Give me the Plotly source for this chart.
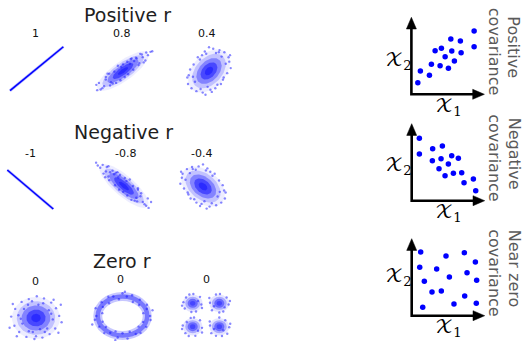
import numpy as np
import plotly.graph_objects as go

W, H = 525, 341
BLUE = "#0000ff"
FONT = "DejaVu Sans"

# ---------------- data ----------------
row_titles = ["Positive r", "Negative r", "Zero r"]
r_labels = ["1", "0.8", "0.4", "-1", "-0.8", "-0.4", "0", "0", "0"]
cloud_r = {"pos08": 0.8, "pos04": 0.4, "neg08": -0.8, "neg04": -0.4, "zero": 0.0}
cov_titles = [("Positive", "covariance"), ("Negative", "covariance"), ("Near zero", "covariance")]

# extremes of the r = +1 / -1 samples
line_x = [-3.0, 3.0]
line_y_pos = [-3.0, 3.0]
line_y_neg = [3.0, -3.0]

# hand-read sparse (outer) sample points of each cloud, standard units
pos08_pts = [(2.9, 2.4), (2.6, 1.6), (3.2, 2.9), (2.2, 2.5), (1.8, 0.9), (2.4, 1.3), (1.5, 2.0), (2.0, 2.6),
             (1.2, 0.2), (0.9, 1.8), (-0.3, -1.4), (0.5, 1.4), (-1.0, -0.1), (-1.5, -2.2), (-2.0, -0.9),
             (-2.4, -2.6), (-2.8, -1.8), (-3.0, -2.9), (-2.2, -2.3), (-1.8, -0.4), (-1.2, -1.9), (-0.6, 0.8),
             (0.2, -0.9), (1.0, 1.9), (1.6, 1.9), (2.7, 2.8), (-2.6, -2.8), (-1.4, -1.7), (0.6, -0.5),
             (1.9, 1.2), (-0.8, -1.8), (-2.0, -1.3), (0.0, 1.0), (1.3, 1.5), (-1.6, -0.4), (2.3, 2.1),
             (3.4, 3.0), (-3.1, -2.1), (-0.2, 0.6), (0.8, 1.1)]
pos04_pts = [(2.8, 1.9), (3.1, 0.4), (2.2, 2.6), (1.5, 2.9), (0.6, 3.1), (-0.4, 2.4), (-1.3, 1.6), (-2.2, 0.9),
             (-2.9, -0.6), (-3.0, -1.8), (-2.5, -2.4), (-1.8, -2.8), (-0.9, -3.0), (0.2, -2.6), (1.2, -1.9),
             (2.0, -1.2), (2.6, -0.3), (1.8, 2.0), (-2.0, -1.5), (-1.0, 2.2), (0.9, -2.4), (-0.2, -2.2),
             (2.4, 1.0), (-2.7, 0.2), (1.0, 2.5), (-1.6, 1.9), (0.4, -2.9), (3.0, 2.2), (-0.6, 2.7),
             (1.7, -1.8), (-2.3, -0.8), (0.0, 3.3), (2.1, -0.9), (-1.2, -2.5), (1.4, 2.6), (-3.1, -0.9),
             (2.9, 1.3), (-0.5, -3.3)]
neg08_pts = [(-2.9, 2.5), (-2.5, 1.7), (-3.2, 2.8), (-2.1, 2.6), (-1.8, 0.8), (-2.3, 1.2), (-1.4, 2.1),
             (-1.9, 2.7), (-1.1, 0.1), (-0.8, 1.9), (0.4, -1.3), (-0.5, 1.5), (1.1, 0.0), (1.6, -2.1),
             (2.1, -1.0), (2.5, -2.5), (2.9, -1.7), (3.0, -3.0), (2.3, -2.2), (1.7, -0.3), (1.3, -2.0),
             (0.7, 0.9), (-0.1, -0.8), (-1.0, 1.8), (-1.7, 1.9), (-2.6, 2.9), (2.7, -2.7), (1.5, -1.6),
             (-0.6, -0.5), (-1.9, 1.3), (0.9, -1.9), (2.0, -1.4), (0.1, 1.1), (-1.2, 1.6), (1.7, -0.5),
             (-2.2, 2.0), (-3.4, 3.2), (3.3, -2.2), (0.3, 0.7), (-0.7, 1.2)]
neg04_pts = [(-2.8, 1.9), (-3.1, 0.4), (-2.2, 2.6), (-1.5, 2.9), (-0.6, 3.0), (0.4, 2.4), (1.3, 1.6), (2.2, 0.9),
             (2.9, -0.6), (3.0, -1.8), (2.5, -2.4), (1.8, -2.8), (0.9, -3.0), (-0.2, -2.6), (-1.2, -1.9),
             (-2.0, -1.2), (-2.6, -0.3), (-1.8, 2.0), (2.0, -1.5), (1.0, 2.2), (-0.9, -2.4), (0.2, -2.2),
             (-2.4, 1.0), (2.7, 0.2), (-1.0, 2.5), (1.6, 1.9), (-0.4, -2.9), (-3.0, 2.2), (0.6, 2.7),
             (-1.7, -1.8), (2.3, -0.8), (0.0, 3.3), (-2.1, -0.9), (1.2, -2.5), (-1.4, 2.6), (3.1, -0.9),
             (-2.9, 1.3), (0.5, -3.3)]
zero_pts = [(2.9, 0.3), (2.5, 1.4), (1.9, 2.2), (1.0, 2.8), (0.1, 3.1), (-0.9, 2.7), (-1.8, 2.3), (-2.6, 1.3),
            (-3.1, 0.2), (-2.7, -1.1), (-2.1, -2.0), (-1.2, -2.7), (-0.2, -3.0), (0.8, -2.8), (1.7, -2.3),
            (2.4, -1.5), (3.2, -0.6), (1.6, 1.1), (-1.5, 1.3), (-1.7, -0.8), (1.4, -1.5), (0.3, 1.9),
            (-0.4, -2.0), (2.1, -0.2), (-2.2, 0.4), (0.9, 2.1), (-1.0, 1.9), (-0.9, -1.9), (1.1, -2.0),
            (2.8, -2.1), (-2.9, 2.0), (-3.3, -1.4), (3.1, 1.9), (0.5, -1.6), (-2.4, -2.6), (2.2, 2.6),
            (-0.5, 2.4), (1.9, 0.6), (-1.9, -0.1), (0.0, -2.6)]
ring_pts = [(1.15, 0.00), (0.87, 0.15), (1.01, 0.37), (1.02, 0.59), (0.69, 0.58), (0.72, 0.86), (0.43, 0.74),
            (0.40, 1.09), (0.18, 1.03), (0.00, 1.20), (-0.15, 0.88), (-0.38, 1.03), (-0.59, 1.01),
            (-0.56, 0.67), (-0.87, 0.73), (-0.82, 0.48), (-1.12, 0.41), (-0.84, 0.15), (-1.09, 0.00),
            (-1.15, -0.20), (-0.83, -0.30), (-0.97, -0.56), (-0.69, -0.58), (-0.76, -0.90), (-0.51, -0.88),
            (-0.29, -0.81), (-0.20, -1.13), (0.00, -0.91), (0.21, -1.19), (0.30, -0.83), (0.55, -0.95),
            (0.75, -0.89), (0.67, -0.56), (0.99, -0.57), (0.86, -0.31), (1.17, -0.21), (1.25, 0.30),
            (-1.26, -0.45), (0.10, 1.28), (-0.30, -1.27)]
blob_centers = [(-1.0, 1.0), (1.0, 1.0), (-1.0, -1.0), (1.0, -1.0)]
blob_pts = [(-1.7, 1.1), (-0.35, 0.9), (-1.25, 1.75), (-0.75, 0.3), (-1.6, 0.55), (-0.45, 1.55), (-0.95, 1.8),
            (-1.8, 0.8), (-0.3, 0.6), (-1.1, 0.25), (-1.5, 1.5), (-0.6, 1.2),
            (0.3, 1.05), (1.7, 0.9), (0.75, 1.75), (1.3, 0.3), (0.45, 0.4), (1.55, 1.5), (1.05, 1.8),
            (1.8, 1.2), (0.25, 1.45), (1.0, 0.22), (0.6, 0.75), (1.4, 0.65),
            (-1.75, -0.9), (-0.3, -1.1), (-1.15, -0.25), (-0.8, -1.78), (-1.55, -1.55), (-0.45, -0.45),
            (-1.3, -1.8), (-0.3, -1.5), (-1.8, -1.2), (-0.9, -0.22), (-1.45, -0.6), (-0.6, -1.35),
            (0.3, -0.9), (1.75, -1.05), (1.0, -0.22), (0.75, -1.78), (1.45, -0.45), (0.4, -1.55),
            (1.6, -1.6), (1.2, -1.8), (0.28, -0.55), (1.82, -0.75), (0.6, -1.2), (1.3, -1.3)]

# covariance sketches (normalised to axis length)
cov_pos_x = [0.088, 0.123, 0.247, 0.274, 0.393, 0.507, 0.589, 0.325, 0.411, 0.462, 0.553, 0.540, 0.671, 0.681, 0.859, 0.859]
cov_pos_y = [0.151, 0.303, 0.247, 0.390, 0.371, 0.338, 0.432, 0.566, 0.597, 0.488, 0.562, 0.718, 0.692, 0.540, 0.822, 0.618]
cov_neg_x = [0.105, 0.105, 0.287, 0.420, 0.283, 0.402, 0.548, 0.639, 0.502, 0.374, 0.457, 0.571, 0.685, 0.717, 0.845, 0.877]
cov_neg_y = [0.810, 0.606, 0.675, 0.710, 0.519, 0.545, 0.584, 0.550, 0.477, 0.416, 0.325, 0.356, 0.364, 0.234, 0.282, 0.130]
cov_zero_x = [0.123, 0.470, 0.721, 0.872, 0.110, 0.342, 0.516, 0.758, 0.173, 0.890, 0.278, 0.406, 0.726, 0.151, 0.579, 0.885]
cov_zero_y = [0.827, 0.775, 0.818, 0.697, 0.628, 0.606, 0.503, 0.558, 0.447, 0.460, 0.308, 0.321, 0.256, 0.109, 0.152, 0.161]

# ---------------- layout helpers ----------------
layout = dict(width=W, height=H, margin=dict(l=0, r=0, t=0, b=0, autoexpand=False), paper_bgcolor="white",
              plot_bgcolor="rgba(0,0,0,0)", showlegend=False, font=dict(family=FONT), shapes=[])
fig = go.Figure()
axis_count = [0]


def add_axes(cx, cy, sx, sy, xr, yr):
    """axes whose data origin sits at pixel (cx, cy), sx/sy pixels per unit"""
    axis_count[0] += 1
    i = axis_count[0]
    s = "" if i == 1 else str(i)
    xr, yr = list(xr), list(yr)
    xl, xh = cx + xr[0] * sx, cx + xr[1] * sx
    yb, yt = cy - yr[0] * sy, cy - yr[1] * sy
    if yb > H:
        yr[0] = -(H - cy) / sy
        yb = H
    if yt < 0:
        yr[1] = cy / sy
        yt = 0
    if xl < 0:
        xr[0] = -cx / sx
        xl = 0
    layout["xaxis" + s] = dict(domain=[xl / W, xh / W], range=xr, visible=False, fixedrange=True, anchor="y" + s)
    layout["yaxis" + s] = dict(domain=[1 - yb / H, 1 - yt / H], range=yr, visible=False, fixedrange=True, anchor="x" + s)
    return "x" + s, "y" + s


def ellipse(r, k, n=72):
    t = np.linspace(0, 2 * np.pi, n)
    a, b = np.sqrt(1 + r), np.sqrt(max(1 - r, 1e-6))
    u, v = k * a * np.cos(t), k * b * np.sin(t)
    return (u - v) / np.sqrt(2), (u + v) / np.sqrt(2)


DOT = dict(size=2.4, color="rgba(20,20,255,0.5)")
LAYERS = [(3.0, 0.07), (2.4, 0.18), (1.8, 0.32), (1.2, 0.45), (0.6, 0.4)]


def cloud(ax, r, pts):
    for k, a in LAYERS:
        ex, ey = ellipse(r, k)
        fig.add_trace(go.Scatter(x=ex, y=ey, mode="lines", fill="toself", line=dict(width=0),
                                 fillcolor=f"rgba(0,0,255,{a})", hoverinfo="skip", xaxis=ax[0], yaxis=ax[1]))
    fig.add_trace(go.Scatter(x=[p[0] for p in pts], y=[p[1] for p in pts], mode="markers", marker=DOT,
                             hoverinfo="skip", xaxis=ax[0], yaxis=ax[1]))


def rline(ax, xs, ys):
    fig.add_trace(go.Scatter(x=xs, y=ys, mode="lines", line=dict(color="rgba(0,0,255,0.3)", width=2.8),
                             hoverinfo="skip", xaxis=ax[0], yaxis=ax[1]))
    fig.add_trace(go.Scatter(x=xs, y=ys, mode="lines", line=dict(color=BLUE, width=1.5),
                             hoverinfo="skip", xaxis=ax[0], yaxis=ax[1]))


R = (-3.6, 3.6)
# row 1
rline(add_axes(36.7, 68.7, 8.9, 7.33, R, R), line_x, line_y_pos)
cloud(add_axes(123, 71, 8.6, 6.6, R, R), cloud_r["pos08"], pos08_pts)
cloud(add_axes(209, 71, 7.0, 7.2, R, R), cloud_r["pos04"], pos04_pts)
# row 2
rline(add_axes(30.3, 189.5, 7.67, 6.5, R, R), line_x, line_y_neg)
cloud(add_axes(124, 186, 8.2, 7.3, R, R), cloud_r["neg08"], neg08_pts)
cloud(add_axes(203, 186.5, 7.3, 6.7, R, R), cloud_r["neg04"], neg04_pts)
# row 3
cloud(add_axes(36, 318, 8.0, 7.0, R, R), cloud_r["zero"], zero_pts)

ax_ring = add_axes(122.5, 316, 24, 19, (-1.6, 1.6), (-1.6, 1.6))
layout["shapes"].append(dict(type="circle", xref=ax_ring[0], yref=ax_ring[1], x0=-1.03, x1=1.03, y0=-1.03, y1=1.03,
                             line=dict(color="rgba(0,0,255,0.22)", width=9)))
layout["shapes"].append(dict(type="circle", xref=ax_ring[0], yref=ax_ring[1], x0=-1.03, x1=1.03, y0=-1.03, y1=1.03,
                             line=dict(color="rgba(0,0,255,0.4)", width=4.5)))
fig.add_trace(go.Scatter(x=[p[0] for p in ring_pts], y=[p[1] for p in ring_pts], mode="markers", marker=DOT,
                         hoverinfo="skip", xaxis=ax_ring[0], yaxis=ax_ring[1]))

ax_blob = add_axes(206, 315, 13.3, 11.7, (-2, 2), (-2, 2))
for bx, by in blob_centers:
    for rad, a in [(0.75, 0.1), (0.56, 0.25), (0.38, 0.38), (0.2, 0.35)]:
        layout["shapes"].append(dict(type="circle", xref=ax_blob[0], yref=ax_blob[1], x0=bx - rad, x1=bx + rad,
                                     y0=by - rad, y1=by + rad, fillcolor=f"rgba(0,0,255,{a})",
                                     line=dict(width=0), layer="below"))
fig.add_trace(go.Scatter(x=[p[0] for p in blob_pts], y=[p[1] for p in blob_pts], mode="markers", marker=DOT,
                         hoverinfo="skip", xaxis=ax_blob[0], yaxis=ax_blob[1]))

# ---------------- covariance sketches ----------------
DW, DH = 73, 77
diag_origins = [(411.4, 94.3), (411.7, 200.7), (411.7, 315.7)]
diag_pts = [(cov_pos_x, cov_pos_y), (cov_neg_x, cov_neg_y), (cov_zero_x, cov_zero_y)]
x2_offsets = [32, 34, 38]
hl_x, hl_y = 11.7 / DW, 11.7 / DH
hw_x, hw_y = 5.0 / DW, 5.0 / DH
XFONT = dict(size=19, color="black", family="DejaVu Math TeX Gyre, STIX Two Math, DejaVu Serif, serif")

annotations = []
for (ox, oy), (px, py), off, (l1, l2) in zip(diag_origins, diag_pts, x2_offsets, cov_titles):
    ax = add_axes(ox, oy, DW, DH, (-0.12, 1.06), (-0.12, 1.06))
    fig.add_trace(go.Scatter(x=[0, 0, 1 - hl_x + 0.01], y=[1 - hl_y + 0.01, 0, 0], mode="lines",
                             line=dict(color="black", width=2.6), hoverinfo="skip", xaxis=ax[0], yaxis=ax[1]))
    fig.add_trace(go.Scatter(x=[-hw_x, hw_x, 0, -hw_x], y=[1 - hl_y, 1 - hl_y, 1, 1 - hl_y], mode="lines",
                             fill="toself", fillcolor="black", line=dict(color="black", width=0.5),
                             hoverinfo="skip", xaxis=ax[0], yaxis=ax[1]))
    fig.add_trace(go.Scatter(x=[1 - hl_x, 1 - hl_x, 1, 1 - hl_x], y=[-hw_y, hw_y, 0, -hw_y], mode="lines",
                             fill="toself", fillcolor="black", line=dict(color="black", width=0.5),
                             hoverinfo="skip", xaxis=ax[0], yaxis=ax[1]))
    fig.add_trace(go.Scatter(x=px, y=py, mode="markers", marker=dict(size=5.5, color=BLUE),
                             hoverinfo="skip", xaxis=ax[0], yaxis=ax[1]))
    annotations.append(dict(x=ox - 13, y=oy - off, text="𝒳<sub>2</sub>", font=XFONT))
    annotations.append(dict(x=ox + 37, y=oy + 13.5, text="𝒳<sub>1</sub>", font=XFONT))
    annotations.append(dict(x=514, y=oy - 47, text=l1, textangle=90,
                            font=dict(size=16, color="#5a5a5a", family=FONT)))
    annotations.append(dict(x=494.5, y=oy - 43, text=l2, textangle=90,
                            font=dict(size=16, color="#5a5a5a", family=FONT)))

# titles and r labels
title_pos = [(127, 15.5), (123, 131.5), (121.5, 260.5)]
for t, (x, y) in zip(row_titles, title_pos):
    annotations.append(dict(x=x, y=y, text=t, font=dict(size=19, color="#1e1e1e", family=FONT)))
label_pos = [(35.5, 33.3), (121.7, 33.3), (206.7, 33.3), (30.5, 153), (125, 153), (201.7, 153),
             (35.7, 281.7), (120.7, 279.5), (206.7, 279.5)]
for t, (x, y) in zip(r_labels, label_pos):
    annotations.append(dict(x=x, y=y, text=t, font=dict(size=11, color="#111111", family=FONT)))

for a in annotations:
    a["x"] = a["x"] / W
    a["y"] = 1 - a["y"] / H
    a.update(xref="paper", yref="paper", showarrow=False, xanchor="center", yanchor="middle")

layout["annotations"] = annotations
fig.update_layout(**layout)
fig.write_html("out.html", config={"displayModeBar": False, "staticPlot": True},
               post_script="document.body.style.margin='0';document.body.style.overflow='hidden';")
